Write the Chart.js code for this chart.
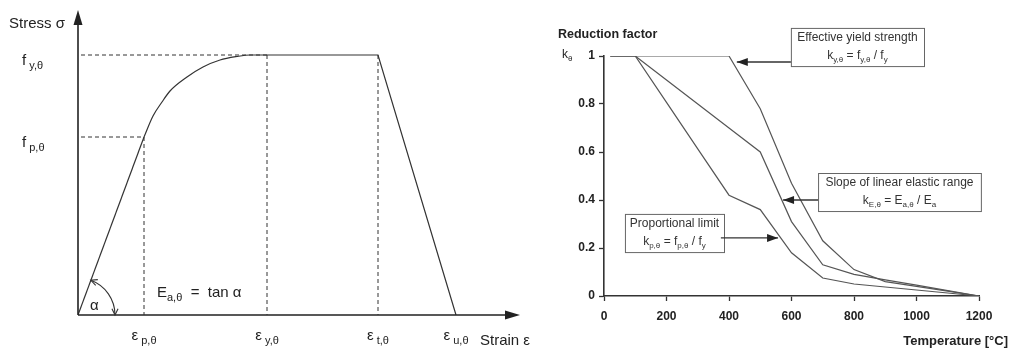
<!DOCTYPE html>
<html lang="en">
<head>
<meta charset="UTF-8" />
<title>Stress-strain relationship and reduction factors</title>
<script src="https://cdn.jsdelivr.net/npm/chart.js"></script>
<style>
  * { margin: 0; padding: 0; box-sizing: border-box; }
  body {
    width: 1010px;
    height: 352px;
    background: #fff;
    position: relative;
    overflow: hidden;
  }
  .panel { position: absolute; top: 0; height: 352px; }
  #left { left: 0; width: 545px; }
  #right { left: 505px; width: 505px; }
</style>
</head>
<body>
<div class="panel" id="left"><canvas id="stressChart"></canvas></div>
<div class="panel" id="right"><canvas id="reductionChart"></canvas></div>

<script>
  const FONT = '"Liberation Sans", Arial, sans-serif';
  const INK = "#222";

  // --- left diagram (schematic units) ---
  const strainMarks = [66, 189, 300, 378];          // eps p, y, t, u
  const strainNames = ["p,θ", "y,θ", "t,θ", "u,θ"];
  const stressMarks = [178, 260];                    // f p, f y
  const stressNames = ["p,θ", "y,θ"];
  const elasticPart = [[0, 0], [66, 178]];
  const ellipticPart = [[66, 178], [75, 199], [84, 213], [92, 224], [109, 238],
                        [125, 248], [142, 255], [159, 258.5], [172, 260], [189, 260]];
  const plateauPart = [[189, 260], [300, 260], [378, 0]];

  // --- right diagram: reduction factors ---
  const temps  = [20, 100, 200, 300, 400, 500, 600, 700, 800, 900, 1000, 1100, 1200];
  const kYield = [1, 1, 1, 1, 1, 0.78, 0.47, 0.23, 0.11, 0.06, 0.04, 0.02, 0];
  const kSlope = [1, 1, 0.9, 0.8, 0.7, 0.6, 0.31, 0.13, 0.09, 0.0675, 0.045, 0.0225, 0];
  const kProp  = [1, 1, 0.807, 0.613, 0.42, 0.36, 0.18, 0.075, 0.05, 0.0375, 0.025, 0.0125, 0];

  // text with subscripts: parts = [[text, isSub], ...]
  function rich(ctx, parts, x, y, align, size) {
    const sub = Math.round(size * 0.7);
    let w = 0;
    const ws = parts.map(([t, s]) => {
      ctx.font = (s ? sub : size) + "px " + FONT;
      const m = ctx.measureText(t).width;
      w += m;
      return m;
    });
    let cx = align === "center" ? x - w / 2 : align === "right" ? x - w : x;
    ctx.textAlign = "left";
    ctx.textBaseline = "middle";
    parts.forEach(([t, s], i) => {
      ctx.font = (s ? sub : size) + "px " + FONT;
      ctx.fillText(t, cx, s ? y + size * 0.35 : y);
      cx += ws[i];
    });
  }

  function filledHead(ctx, x, y, ang, len, half) {
    ctx.beginPath();
    ctx.moveTo(x, y);
    ctx.lineTo(x - len * Math.cos(ang) + half * Math.sin(ang), y - len * Math.sin(ang) - half * Math.cos(ang));
    ctx.lineTo(x - len * Math.cos(ang) - half * Math.sin(ang), y - len * Math.sin(ang) + half * Math.cos(ang));
    ctx.closePath();
    ctx.fill();
  }

  function openHead(ctx, x, y, ang, len) {
    ctx.beginPath();
    ctx.moveTo(x - len * Math.cos(ang - 0.45), y - len * Math.sin(ang - 0.45));
    ctx.lineTo(x, y);
    ctx.lineTo(x - len * Math.cos(ang + 0.45), y - len * Math.sin(ang + 0.45));
    ctx.stroke();
  }

  const pts = (arr) => arr.map(([x, y]) => ({ x, y }));

  const stressDecor = {
    id: "stressDecor",
    afterDraw(chart) {
      const ctx = chart.ctx;
      const px = (v) => chart.scales.x.getPixelForValue(v);
      const py = (v) => chart.scales.y.getPixelForValue(v);
      const area = chart.chartArea;
      const ox = px(0), oy = py(0);
      ctx.save();

      // axes with arrows
      ctx.strokeStyle = INK;
      ctx.fillStyle = INK;
      ctx.lineWidth = 1.6;
      ctx.beginPath();
      ctx.moveTo(ox, oy);
      ctx.lineTo(ox, area.top + 6);
      ctx.moveTo(ox, oy);
      ctx.lineTo(area.right - 6, oy);
      ctx.stroke();
      filledHead(ctx, ox, area.top, -Math.PI / 2, 15, 4.5);
      filledHead(ctx, area.right, oy, 0, 15, 4.5);

      // dashed guides
      ctx.setLineDash([4, 3]);
      ctx.lineWidth = 1;
      ctx.strokeStyle = "#333";
      ctx.beginPath();
      ctx.moveTo(ox + 3, py(stressMarks[1]));
      ctx.lineTo(px(strainMarks[1]), py(stressMarks[1]));
      ctx.moveTo(ox + 3, py(stressMarks[0]));
      ctx.lineTo(px(strainMarks[0]), py(stressMarks[0]));
      ctx.moveTo(px(strainMarks[0]), py(stressMarks[0]));
      ctx.lineTo(px(strainMarks[0]), oy);
      ctx.moveTo(px(strainMarks[1]), py(stressMarks[1]));
      ctx.lineTo(px(strainMarks[1]), oy);
      ctx.moveTo(px(strainMarks[2]), py(stressMarks[1]));
      ctx.lineTo(px(strainMarks[2]), oy);
      ctx.stroke();
      ctx.setLineDash([]);

      // angle arc
      const ang = Math.atan2(py(stressMarks[0]) - oy, px(strainMarks[0]) - ox);
      const r = 37;
      ctx.lineWidth = 1.1;
      ctx.beginPath();
      ctx.arc(ox, oy, r, ang, 0);
      ctx.stroke();
      openHead(ctx, ox + r, oy, Math.PI / 2, 7);
      openHead(ctx, ox + r * Math.cos(ang), oy + r * Math.sin(ang), ang - Math.PI / 2, 7);

      // labels
      ctx.fillStyle = INK;
      ctx.font = "15px " + FONT;
      ctx.textAlign = "left";
      ctx.textBaseline = "middle";
      ctx.fillText("Stress σ", 9, 24);
      ctx.fillText("α", ox + 12, oy - 9);
      stressMarks.forEach((v, i) => {
        rich(ctx, [["f", false], [" " + stressNames[i], true]], 22, py(v) + 6, "left", 15);
      });
      strainMarks.forEach((v, i) => {
        rich(ctx, [["ε", false], [" " + strainNames[i], true]], px(v), oy + 21, "center", 15);
      });
      rich(ctx, [["E", false], ["a,θ", true], ["  =  tan α", false]], ox + 79, oy - 22, "left", 15);
      ctx.font = "15px " + FONT;
      ctx.fillText("Strain ε", area.right - 40, oy + 26);
      ctx.restore();
    },
  };

  const lineStyle = { borderColor: "#333", borderWidth: 1.2, pointRadius: 0, fill: false };

  new Chart(document.getElementById("stressChart"), {
    type: "scatter",
    data: {
      datasets: [
        { ...lineStyle, data: pts(elasticPart), showLine: true },
        { ...lineStyle, data: pts(ellipticPart), showLine: true, cubicInterpolationMode: "monotone" },
        { ...lineStyle, data: pts(plateauPart), showLine: true },
      ],
    },
    options: {
      responsive: true,
      maintainAspectRatio: false,
      animation: false,
      layout: { padding: { left: 78, right: 25, top: 10, bottom: 37 } },
      scales: {
        x: { type: "linear", min: 0, max: 442, display: false },
        y: { type: "linear", min: 0, max: 305, display: false },
      },
      plugins: { legend: { display: false }, tooltip: { enabled: false } },
    },
    plugins: [stressDecor],
  });

  // right chart decorations
  const reductionDecor = {
    id: "reductionDecor",
    afterDraw(chart) {
      const ctx = chart.ctx;
      const px = (v) => chart.scales.x.getPixelForValue(v);
      const py = (v) => chart.scales.y.getPixelForValue(v);
      ctx.save();
      ctx.fillStyle = INK;
      ctx.textBaseline = "middle";
      ctx.textAlign = "left";
      ctx.font = "bold 12.5px " + FONT;
      ctx.fillText("Reduction factor", 53, 35);
      rich(ctx, [["k", false], ["θ", true]], 57, py(1) - 1, "left", 12);
      ctx.font = "bold 13px " + FONT;
      ctx.textAlign = "right";
      ctx.fillText("Temperature [°C]", 503, 341);

      const box = (t0, k0, t1, k1, line1, line2) => {
        const x0 = px(t0), y0 = py(k0), x1 = px(t1), y1 = py(k1);
        ctx.fillStyle = "#fff";
        ctx.fillRect(x0, y0, x1 - x0, y1 - y0);
        ctx.strokeStyle = "#666";
        ctx.lineWidth = 1;
        ctx.strokeRect(x0 + 0.5, y0 + 0.5, x1 - x0, y1 - y0);
        ctx.fillStyle = "#333";
        ctx.font = "12px " + FONT;
        ctx.textAlign = "center";
        ctx.textBaseline = "middle";
        const cx = (x0 + x1) / 2;
        ctx.fillText(line1, cx, y0 + 10);
        rich(ctx, line2, cx, y0 + 28, "center", 12);
      };
      const arrow = (t0, k0, t1, k1) => {
        const x0 = px(t0), y0 = py(k0), x1 = px(t1), y1 = py(k1);
        ctx.strokeStyle = "#333";
        ctx.fillStyle = "#222";
        ctx.lineWidth = 1.3;
        ctx.beginPath();
        ctx.moveTo(x0, y0);
        ctx.lineTo(x1, y1);
        ctx.stroke();
        filledHead(ctx, x1, y1, Math.atan2(y1 - y0, x1 - x0), 11, 4);
      };

      box(598, 1.117, 1024, 0.958, "Effective yield strength",
        [["k", false], ["y,θ", true], [" = f", false], ["y,θ", true], [" / f", false], ["y", true]]);
      arrow(598, 0.975, 425, 0.975);

      box(685, 0.5125, 1206, 0.354, "Slope of linear elastic range",
        [["k", false], ["E,θ", true], [" = E", false], ["a,θ", true], [" / E", false], ["a", true]]);
      arrow(685, 0.4, 573, 0.4);

      box(67, 0.342, 384, 0.183, "Proportional limit",
        [["k", false], ["p,θ", true], [" = f", false], ["p,θ", true], [" / f", false], ["y", true]]);
      arrow(374, 0.242, 557, 0.242);
      ctx.restore();
    },
  };

  const series = (vals) => ({
    data: temps.map((t, i) => ({ x: t, y: vals[i] })),
    borderColor: "#555",
    borderWidth: 1.2,
    pointRadius: 0,
    showLine: true,
    fill: false,
  });

  const tickFont = { family: FONT, size: 12, weight: "bold" };

  new Chart(document.getElementById("reductionChart"), {
    type: "scatter",
    data: { datasets: [series(kYield), series(kSlope), series(kProp)] },
    options: {
      responsive: true,
      maintainAspectRatio: false,
      animation: false,
      layout: { padding: { left: 0, right: 31, top: 56, bottom: 0 } },
      scales: {
        x: {
          type: "linear",
          min: 0,
          max: 1200,
          afterFit: (s) => { s.height = 56; },
          ticks: { stepSize: 200, color: INK, font: tickFont, padding: 8, maxRotation: 0, callback: (v) => String(v) },
          grid: { drawOnChartArea: false, tickLength: 5, tickColor: "#333", tickWidth: 1.3 },
          border: { color: "#333", width: 1.6 },
        },
        y: {
          type: "linear",
          min: 0,
          max: 1,
          afterFit: (s) => { s.width = 99; },
          ticks: { stepSize: 0.2, color: INK, font: tickFont, padding: 4, callback: (v) => String(+v.toFixed(1)) },
          grid: { drawOnChartArea: false, tickLength: 5, tickColor: "#333", tickWidth: 1.3 },
          border: { color: "#333", width: 1.6 },
        },
      },
      plugins: { legend: { display: false }, tooltip: { enabled: false } },
    },
    plugins: [reductionDecor],
  });
</script>
</body>
</html>
